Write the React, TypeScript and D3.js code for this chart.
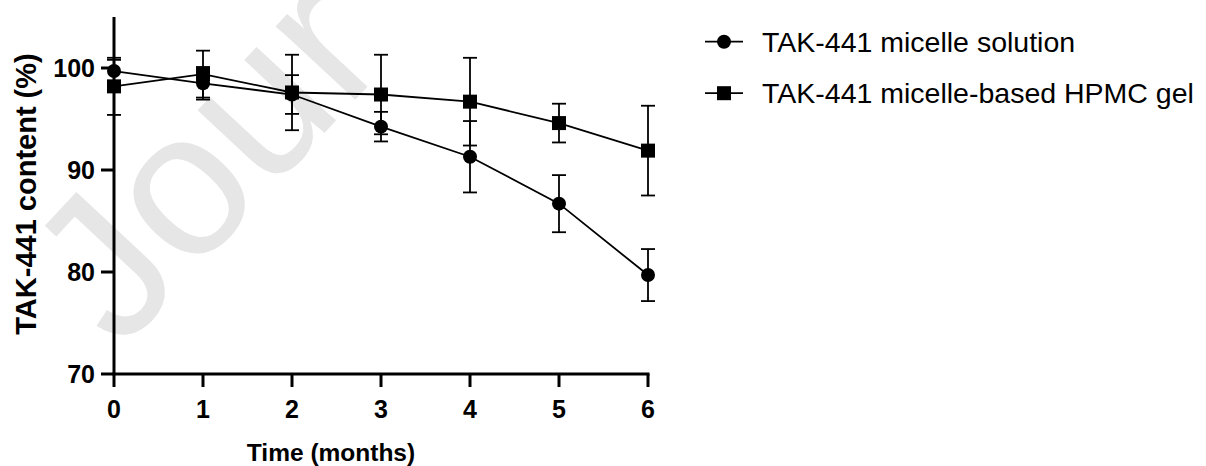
import React from "react";
import * as d3 from "d3";

// months of storage
const months = [0, 1, 2, 3, 4, 5, 6];

// TAK-441 micelle solution (mean, SD)
const solutionMean = [99.7, 98.5, 97.4, 94.25, 91.3, 86.7, 79.7];
const solutionSd = [1.1, 1.6, 1.9, 1.45, 3.5, 2.8, 2.55];

// TAK-441 micelle-based HPMC gel (mean, SD)
const gelMean = [98.2, 99.4, 97.6, 97.4, 96.7, 94.6, 91.9];
const gelSd = [2.8, 2.3, 3.7, 3.9, 4.3, 1.9, 4.4];

const yTicks = [70, 80, 90, 100];
const legendLabels = ["TAK-441 micelle solution", "TAK-441 micelle-based HPMC gel"];

const W = 1206;
const H = 466;
const font = "'Liberation Sans', Arial, sans-serif";

const App = () => {
  const x = d3.scaleLinear().domain([0, 6]).range([114, 648]);
  const y = d3.scaleLinear().domain([70, 105]).range([374, 17]);

  const line = d3
    .line<number>()
    .x((_, i) => x(months[i]))
    .y((d) => y(d));

  const series = [
    { mean: solutionMean, sd: solutionSd, shape: "circle" },
    { mean: gelMean, sd: gelSd, shape: "square" },
  ];

  const marker = (shape: string, cx: number, cy: number, key: string) =>
    shape === "circle" ? (
      <circle key={key} cx={cx} cy={cy} r={7} fill="#000" />
    ) : (
      <rect key={key} x={cx - 7} y={cy - 7} width={14} height={14} fill="#000" />
    );

  return (
    <svg width={W} height={H} style={{ position: "absolute", left: 0, top: 0 }}>
      <rect width={W} height={H} fill="#fff" />

      {/* watermark, mostly off the canvas */}
      <text
        transform="translate(120,352) rotate(-47)"
        fontFamily={font}
        fontSize={205}
        fill="#e6e6e6"
      >
        Jour
      </text>

      {/* series lines */}
      {series.map((s, k) => (
        <path key={"l" + k} d={line(s.mean) || ""} fill="none" stroke="#000" strokeWidth={1.8} />
      ))}

      {/* error bars */}
      {series.map((s, k) =>
        s.mean.map((m, i) => {
          const cx = x(months[i]);
          const top = y(m + s.sd[i]);
          const bot = y(m - s.sd[i]);
          return (
            <g key={"e" + k + i} stroke="#000" strokeWidth={1.8}>
              <line x1={cx} x2={cx} y1={top} y2={bot} />
              <line x1={cx - 7} x2={cx + 7} y1={top} y2={top} />
              <line x1={cx - 7} x2={cx + 7} y1={bot} y2={bot} />
            </g>
          );
        })
      )}

      {/* markers */}
      {series.map((s, k) => s.mean.map((m, i) => marker(s.shape, x(months[i]), y(m), "m" + k + i)))}

      {/* axes */}
      <g stroke="#000" strokeWidth={3}>
        <line x1={x(0)} x2={x(0)} y1={y(105)} y2={y(70)} />
        <line x1={x(0) - 1.5} x2={x(6) + 1.5} y1={y(70)} y2={y(70)} />
        {yTicks.map((t) => (
          <line key={"yt" + t} x1={x(0) - 13} x2={x(0)} y1={y(t)} y2={y(t)} />
        ))}
        {months.map((t) => (
          <line key={"xt" + t} x1={x(t)} x2={x(t)} y1={y(70)} y2={y(70) + 13} />
        ))}
      </g>

      <g fontFamily={font} fontWeight="bold" fontSize={25} fill="#000">
        {yTicks.map((t) => (
          <text key={"yl" + t} x={x(0) - 19} y={y(t) + 9} textAnchor="end">
            {t}
          </text>
        ))}
        {months.map((t) => (
          <text key={"xl" + t} x={x(t)} y={418} textAnchor="middle">
            {t}
          </text>
        ))}
        <text x={331} y={461} textAnchor="middle" fontSize={24.5}>
          Time (months)
        </text>
        <text transform="translate(36,194) rotate(-90)" textAnchor="middle" fontSize={29}>
          TAK-441 content (%)
        </text>
      </g>

      {/* legend */}
      {legendLabels.map((label, k) => {
        const ly = 41.7 + k * 51.5;
        return (
          <g key={"lg" + k}>
            <line x1={705} x2={743} y1={ly} y2={ly} stroke="#000" strokeWidth={1.8} />
            {marker(series[k].shape, 724, ly, "lm" + k)}
            <text x={762} y={ly + 10} fontFamily={font} fontSize={28.5} fill="#000">
              {label}
            </text>
          </g>
        );
      })}
    </svg>
  );
};

export default App;
